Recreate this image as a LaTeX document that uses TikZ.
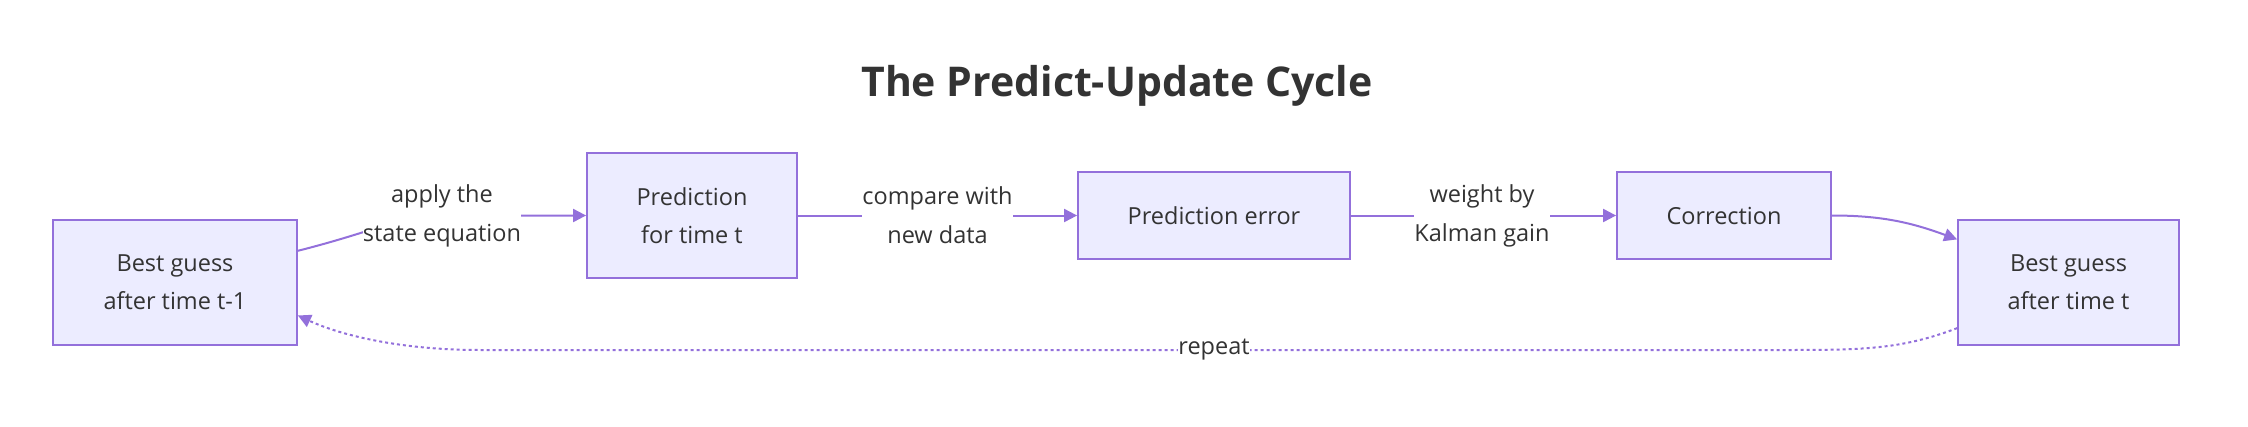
\documentclass[tikz,border=0pt]{standalone}
\usepackage{fontspec}
\setmainfont{Open Sans}
\usetikzlibrary{arrows.meta,calc}
\definecolor{nodefill}{HTML}{ECECFF}
\definecolor{nodeline}{HTML}{9370DB}
\definecolor{txt}{HTML}{333333}
\tikzset{
  box/.style={draw=nodeline, fill=nodefill, line width=1.8pt, text=txt,
    font=\fontsize{23.5}{38}\selectfont, align=center, inner sep=0pt},
  lbl/.style={fill=white, text=txt, font=\fontsize{23.5}{39}\selectfont,
    align=center, inner xsep=0pt, inner ysep=3pt},
  edge/.style={draw=nodeline, line width=2pt},
  arr/.style={-{Triangle[length=13pt,width=13pt]}},
  dotline/.style={dash pattern=on 3pt off 3pt},
  titlestyle/.style={text=txt, font=\fontsize{41}{50}\selectfont\bfseries}
}
\begin{document}
\begin{tikzpicture}[x=1pt,y=-1pt]
\useasboundingbox (0,0) rectangle (2248,426);
\node[titlestyle] (title) at (1117,86) {The Predict-Update Cycle};

\node[box, minimum width=244pt, minimum height=125pt] (b1) at (175,282.5) {Best guess\\after time t-1};
\node[box, minimum width=210pt, minimum height=125pt] (b2) at (692,215.5) {Prediction\\for time t};
\node[box, minimum width=272pt, minimum height=87pt] (b3) at (1214,215.5) {Prediction error};
\node[box, minimum width=214pt, minimum height=87pt] (b4) at (1724,215.5) {Correction};
\node[box, minimum width=221pt, minimum height=125pt] (b5) at (2068.5,282.5) {Best guess\\after time t};

\coordinate (c1) at (442,215.5);
\coordinate (c2) at (937.5,215.5);
\coordinate (c3) at (1482,215.5);
\coordinate (c4) at (1214,350);
\coordinate (s1) at ($(b1.north east)!0.25!(b1.south east)$);
\coordinate (t5) at ($(b5.north west)!0.16!(b5.south west)$);
\coordinate (r5) at ($(b5.north west)!0.86!(b5.south west)$);
\coordinate (r1) at ($(b1.north east)!0.76!(b1.south east)$);

\draw[edge,arr] (s1) .. controls (380,230) and (400,215.5) .. (c1) -- (b2.west);
\draw[edge,arr] (b2.east) -- (c2) -- (b3.west);
\draw[edge,arr] (b3.east) -- (c3) -- (b4.west);
\draw[edge,arr] (b4.east) .. controls (1880,215.5) and (1910,222) .. (t5);
\draw[edge,dotline,arr] (r5) .. controls (1900,350) and (1860,350) .. (1780,350)
   -- (480,350) .. controls (400,350) and (340,335) .. (r1);

\node[lbl] (l1) at (c1) {apply the\\state equation};
\node[lbl] (l2) at (c2) {compare with\\new data};
\node[lbl] (l3) at (c3) {weight by\\Kalman gain};
\node[lbl] (l4) at (c4) {repeat};
\end{tikzpicture}
\end{document}
